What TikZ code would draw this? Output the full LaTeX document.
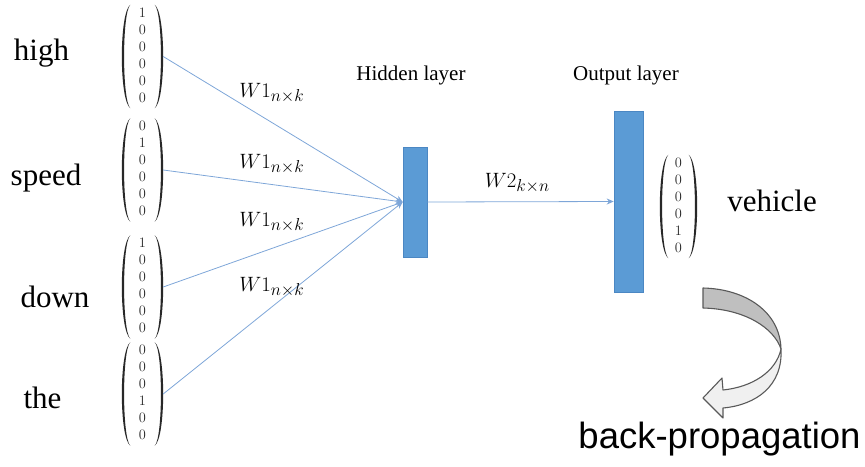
\documentclass[tikz,border=0pt]{standalone}
\usepackage{fontspec}
\setmainfont{Liberation Serif}
\newfontfamily\captionsans{Liberation Sans}
\usetikzlibrary{arrows.meta,calc}

\definecolor{boxblue}{RGB}{91,155,213}
\definecolor{boxedge}{RGB}{75,135,195}
\definecolor{linkblue}{RGB}{126,166,216}
\definecolor{ribbondark}{RGB}{191,191,191}
\definecolor{ribbonlight}{RGB}{240,240,240}
\definecolor{ribbonedge}{RGB}{89,89,89}
\definecolor{inkgray}{RGB}{40,40,40}

% stacked entries of a one-hot column vector
\newcommand\onehot[6]{$\begin{array}{c}#1\\#2\\#3\\#4\\#5\\#6\end{array}$}

% weight matrix name with a large subscript
\newcommand\weightname[2]{$W#1$\raisebox{-3.5pt}{\fontsize{16}{16}\selectfont$#2$}}

% round brackets drawn around a vector node
\newcommand\vecbrackets[1]{%
  \fill[inkgray] ($(#1.north west)+(8.5,0)$)
      .. controls ($(#1.west)+(-2.8,-44)$) and ($(#1.west)+(-2.8,44)$) .. ($(#1.south west)+(8.5,0)$)
      .. controls ($(#1.west)+(0.2,44)$) and ($(#1.west)+(0.2,-44)$) .. cycle;
  \fill[inkgray] ($(#1.north east)+(-8.5,0)$)
      .. controls ($(#1.east)+(2.8,-44)$) and ($(#1.east)+(2.8,44)$) .. ($(#1.south east)+(-8.5,0)$)
      .. controls ($(#1.east)+(-0.2,44)$) and ($(#1.east)+(-0.2,-44)$) .. cycle;
}

\begin{document}
\begin{tikzpicture}[x=1pt,y=-1pt,
  word/.style={anchor=base,inner sep=0pt,font=\fontsize{31}{31}\selectfont},
  layername/.style={anchor=base,inner sep=0pt,font=\fontsize{21}{21}\selectfont},
  vec/.style={inner sep=0pt,minimum width=41pt,minimum height=103pt,
    font=\fontsize{15}{17}\selectfont,text=inkgray},
  weight/.style={inner sep=0pt,font=\fontsize{20}{20}\selectfont},
  layerbox/.style={draw=boxedge,fill=boxblue,line width=0.6pt,inner sep=0pt},
  link/.style={draw=linkblue,line width=0.8pt,-{Stealth[length=7pt,width=6pt]}},
  ribbon/.style={draw=ribbonedge,line width=1.1pt,line join=round},
]
\useasboundingbox (0,0) rectangle (865,466);

% input words
\node[word] (w1) at (41.5,60) {high};
\node[word] (w2) at (46,185) {speed};
\node[word] (w3) at (55,307) {down};
\node[word] (w4) at (42.5,408) {the};

% input vectors
\node[vec] (m1) at (142.5,56.5) {\onehot{1}{0}{0}{0}{0}{0}};
\node[vec] (m2) at (142.5,170) {\onehot{0}{1}{0}{0}{0}{0}};
\node[vec] (m3) at (142.5,287) {\onehot{1}{0}{0}{0}{0}{0}};
\node[vec] (m4) at (142.5,394) {\onehot{0}{0}{0}{1}{0}{0}};
\vecbrackets{m1}
\vecbrackets{m2}
\vecbrackets{m3}
\vecbrackets{m4}

% layers
\node[layerbox,minimum width=24pt,minimum height=110pt] (hid) at (415,202) {};
\node[layerbox,minimum width=29pt,minimum height=181pt] (out) at (628.5,201.5) {};
\node[layername] (hidname) at (411,80) {Hidden layer};
\node[layername] (outname) at (626,80) {Output layer};

% output vector and word
\node[vec,minimum width=37pt] (mv) at (678.5,206.5) {\onehot{0}{0}{0}{0}{1}{0}};
\vecbrackets{mv}
\node[word] (wv) at (772,211) {vehicle};

% weights
\draw[link] (m1.east) -- (hid.west);
\draw[link] (m2.east) -- (hid.west);
\draw[link] (m3.east) -- (hid.west);
\draw[link] (m4.east) -- (hid.west);
\draw[link] (hid.east) -- (out.west);

\node[weight] (l1) at (271.5,93) {\weightname{1}{n{\times}k}};
\node[weight] (l2) at (271.5,164) {\weightname{1}{n{\times}k}};
\node[weight] (l3) at (271.5,222) {\weightname{1}{n{\times}k}};
\node[weight] (l4) at (271.5,287) {\weightname{1}{n{\times}k}};
\node[weight] (l5) at (517,183) {\weightname{2}{k{\times}n}};

% twisted curved arrow
\filldraw[ribbon,fill=ribbondark]
  (703,288) .. controls (746,289) and (780,312) .. (781,349)
  .. controls (774,328) and (745,309) .. (703,308) -- cycle;
\filldraw[ribbon,fill=ribbonlight]
  (781,349) .. controls (783,386) and (756,405) .. (723,408)
  -- (723,418) -- (703,398) -- (722,378) -- (723,390)
  .. controls (752,387) and (776,372) .. (781,349) -- cycle;

\node[anchor=base,inner sep=0pt,font=\captionsans\fontsize{36.5}{36.5}\selectfont] (bp) at (719.5,448) {back-propagation};
\end{tikzpicture}
\end{document}
